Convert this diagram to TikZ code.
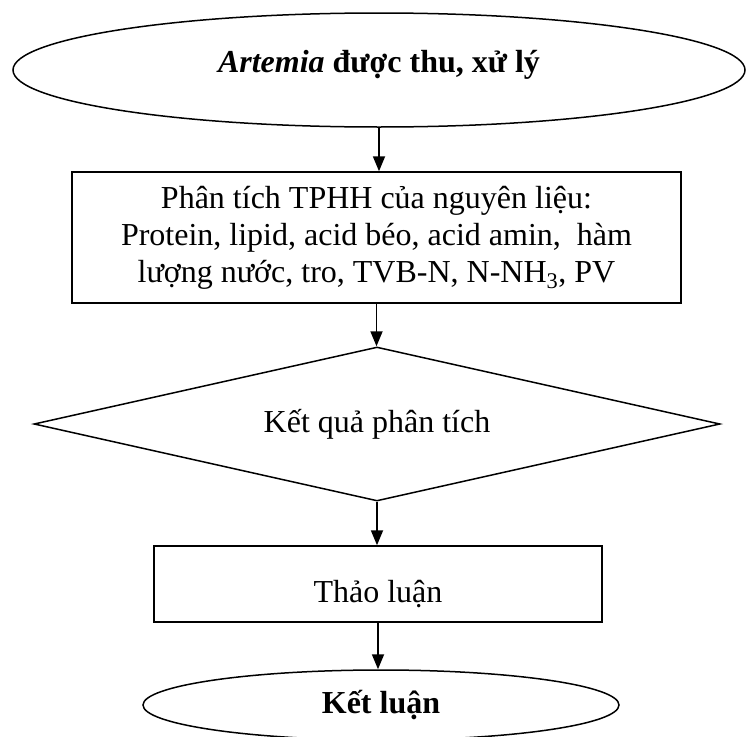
\documentclass[tikz,border=0pt]{standalone}
\usepackage{fontspec}
\setmainfont{Liberation Serif}
\usetikzlibrary{shapes.geometric, arrows.meta}

\begin{document}
\begin{tikzpicture}[x=1pt, y=-1pt,
  shp/.style={draw, line width=1.5pt, inner sep=0pt, align=center, font=\fontsize{32}{37}\selectfont},
  arr/.style={line width=1.8pt, -{Triangle[length=15pt, width=12pt]}}]

\useasboundingbox (0,0) rectangle (746,736);

\node[shp, ellipse, minimum width=732pt, minimum height=114pt, text height=29pt, text depth=25pt] (thu) at (379,70) {\textbf{\textit{Artemia} được thu, xử lý}};
\node[shp, rectangle, minimum width=609pt, minimum height=131pt] (phantich) at (376.5,237.5) {Phân tích TPHH của nguyên liệu:\\Protein, lipid, acid béo, acid amin,~ hàm\\lượng nước, tro, TVB-N, N-NH\textsubscript{3}, PV};
\node[shp, diamond, aspect=4.45, minimum width=686pt, minimum height=154pt] (ketqua) at (377,424) {Kết quả phân tích};
\node[shp, rectangle, minimum width=448pt, minimum height=76pt, text height=36pt, text depth=0pt] (thaoluan) at (378,584) {Thảo luận};
\node[shp, ellipse, minimum width=476pt, minimum height=70pt] (ketluan) at (381,705) {\textbf{Kết luận}};

\draw[arr] (thu.south) -- (thu.south |- phantich.north);
\draw[arr] (phantich.south) -- (phantich.south |- ketqua.north);
\draw[arr] (ketqua.south) -- (ketqua.south |- thaoluan.north);
\draw[arr] (thaoluan.south) -- (thaoluan.south |- ketluan.north);

\end{tikzpicture}
\end{document}
